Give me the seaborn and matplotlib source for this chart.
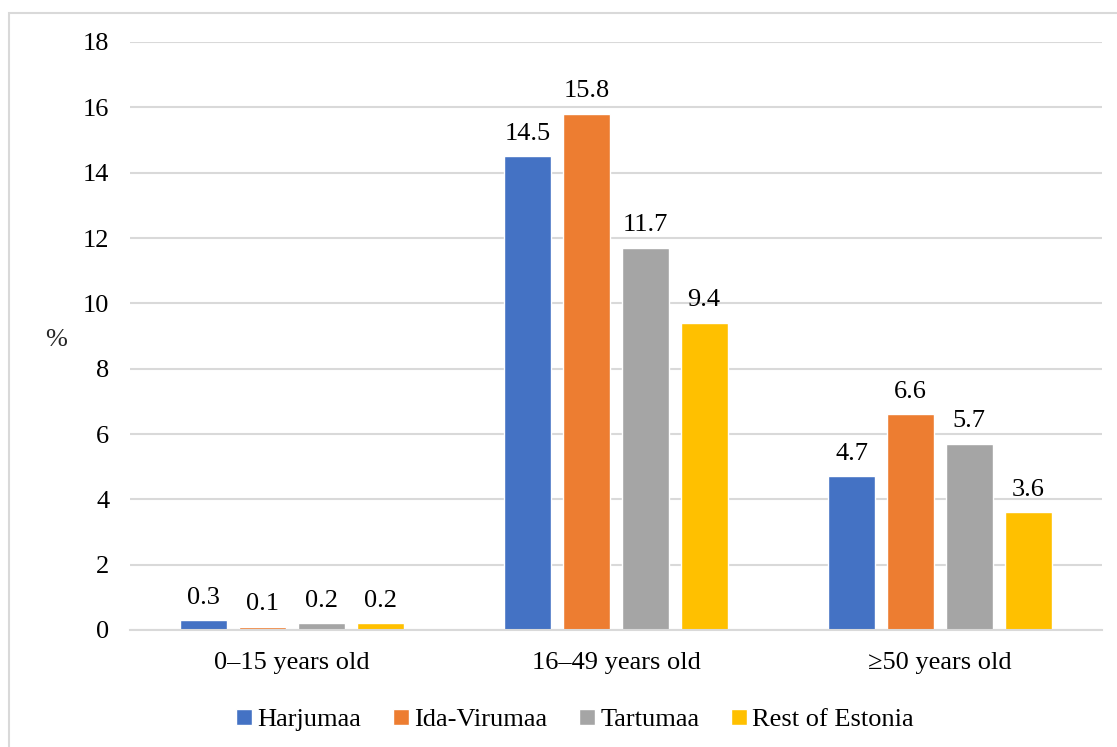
import matplotlib
matplotlib.use("Agg")
import matplotlib.pyplot as plt
import seaborn as sns
import pandas as pd
from matplotlib.patches import Rectangle

# Share of population by age group and region (%)
age_groups = ["0\u201315 years old", "16\u201349 years old", "\u226550 years old"]
regions = ["Harjumaa", "Ida-Virumaa", "Tartumaa", "Rest of Estonia"]
harjumaa = [0.3, 14.5, 4.7]
ida_virumaa = [0.1, 15.8, 6.6]
tartumaa = [0.2, 11.7, 5.7]
rest_of_estonia = [0.2, 9.4, 3.6]
y_ticks = [0, 2, 4, 6, 8, 10, 12, 14, 16, 18]

colors = ["#4472C4", "#ED7D31", "#A5A5A5", "#FFC000"]
grid_color = "#D9D9D9"
fs = 19

series = [harjumaa, ida_virumaa, tartumaa, rest_of_estonia]
rows = []
for region, vals in zip(regions, series):
    for age, v in zip(age_groups, vals):
        rows.append({"age": age, "region": region, "value": v})
df = pd.DataFrame(rows)

sns.set_theme(style="white")
plt.rcParams["font.family"] = ["Liberation Serif", "DejaVu Serif"]
plt.rcParams["text.color"] = "black"

fig = plt.figure(figsize=(11.17, 7.47), dpi=100)
ax = fig.add_axes([130 / 1117, 1 - 630 / 747, (1102 - 130) / 1117, (630 - 42) / 747])

sns.barplot(data=df, x="age", y="value", hue="region", order=age_groups,
            hue_order=regions, palette=colors, width=0.725, gap=0.2,
            saturation=1, errorbar=None, ax=ax, legend=True)

ax.set_ylim(0, 18)
ax.set_yticks(y_ticks)
ax.set_yticklabels([str(t) for t in y_ticks])
ax.yaxis.grid(True, color=grid_color, linewidth=1.5)
ax.set_axisbelow(True)
for side in ["left", "right", "top"]:
    ax.spines[side].set_visible(False)
ax.spines["bottom"].set_color(grid_color)
ax.spines["bottom"].set_linewidth(1.5)
ax.tick_params(axis="both", length=0, labelsize=fs, colors="black")
ax.tick_params(axis="y", pad=15)
ax.tick_params(axis="x", pad=16)
ax.set_xlabel("")
ax.set_ylabel("%", rotation=0, fontsize=fs, va="center", ha="center")
ax.yaxis.set_label_coords(-74 / 972, 0.493)

# value labels above each bar
for container in ax.containers:
    for bar in container:
        h = bar.get_height()
        ax.annotate(f"{h:.1f}", (bar.get_x() + bar.get_width() / 2, h),
                    xytext=(0, 12), textcoords="offset points",
                    ha="center", va="baseline", fontsize=fs)

handles, labels = ax.get_legend_handles_labels()
ax.legend_.remove()
fig.legend(handles, labels, loc="center", bbox_to_anchor=(575 / 1117, 27 / 747),
           ncol=4, frameon=False, fontsize=fs, handlelength=0.6,
           handleheight=0.6, handletextpad=0.2, columnspacing=1.2)

# light chart-area border
fig.patches.append(Rectangle((9 / 1117, -0.2), 1.2, 1.2 - 13 / 747,
                             transform=fig.transFigure, fill=False,
                             edgecolor=grid_color, linewidth=1.5))

fig.savefig("out.png", dpi=100)
